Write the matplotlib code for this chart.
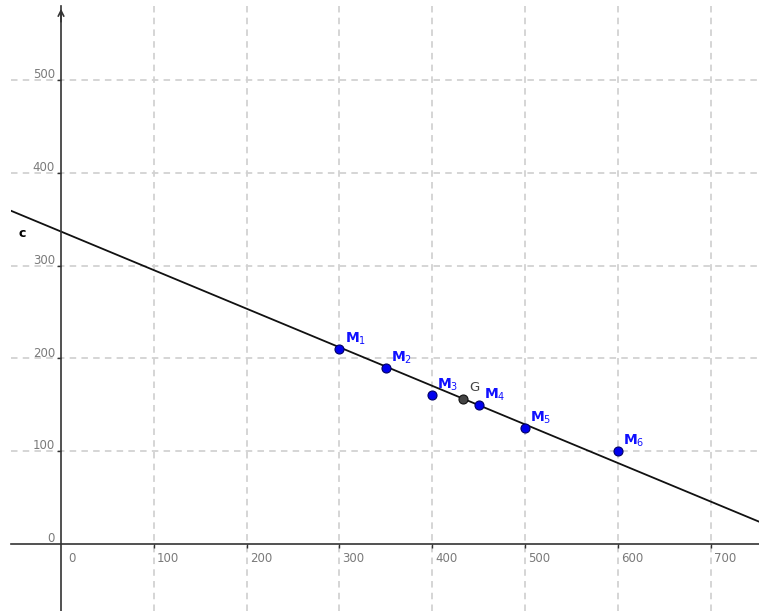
import matplotlib
matplotlib.use('Agg')
import matplotlib.pyplot as plt
import numpy as np

# ----------------------------------------------------------------------------------------------------------------------
# DATA
# ----------------------------------------------------------------------------------------------------------------------

point_names = ['1', '2', '3', '4', '5', '6']
x_values = [300, 350, 400, 450, 500, 600]
y_values = [210, 190, 160, 150, 125, 100]
line_slope = -0.416       # line c
line_intercept = 336.7
x_ticks = [0, 100, 200, 300, 400, 500, 600, 700]
y_ticks = [0, 100, 200, 300, 400, 500]

# ----------------------------------------------------------------------------------------------------------------------
# PLOT
# ----------------------------------------------------------------------------------------------------------------------

W, H, DPI = 759, 611, 100
f = plt.figure(figsize=(W / DPI, H / DPI), dpi=DPI)
ax = f.add_axes([11 / W, 0, 748 / W, 605 / H])
xmin, xmax = -53.9, 752.2
ymin, ymax = -72.6, 580.0
ax.set_xlim(xmin, xmax)
ax.set_ylim(ymin, ymax)

# grid -----------------------------------------------------------------------------------------------------------------
grid_kw = dict(color='#d2d2d2', linewidth=1.3, dashes=(3.6, 2.9), zorder=0)
for v in x_ticks[1:]:
    ax.axvline(v, **grid_kw)
for v in y_ticks[1:]:
    ax.axhline(v, **grid_kw)

# axes through origin --------------------------------------------------------------------------------------------------
for s in ['top', 'right']:
    ax.spines[s].set_visible(False)
ax.spines['left'].set_position(('data', 0))
ax.spines['bottom'].set_position(('data', 0))
for s in ['left', 'bottom']:
    ax.spines[s].set_color('#333333')
    ax.spines[s].set_linewidth(1.2)
ax.set_xticks(x_ticks[1:])
ax.set_yticks(y_ticks[1:])
ax.tick_params(direction='out', length=3, width=1, color='#333333', labelbottom=False, labelleft=False)
ax.annotate('', xy=(0, ymax), xytext=(0, ymax - 20),
            arrowprops=dict(arrowstyle='->', color='#333333', lw=1.2, mutation_scale=10), annotation_clip=False)

# tick labels ----------------------------------------------------------------------------------------------------------
lab_kw = dict(fontsize=8.5, color='#7a7a7a', textcoords='offset points')
for v in y_ticks:
    ax.annotate(str(v), xy=(0, v), xytext=(-4.3, 1.2), ha='right', va='baseline', **lab_kw)
for v in x_ticks:
    dx = 5.0 if v == 0 else 2.3
    ax.annotate(str(v), xy=(v, 0), xytext=(dx, -13.2), ha='left', va='baseline', **lab_kw)

# line c ---------------------------------------------------------------------------------------------------------------
xx = np.array([xmin, xmax])
ax.plot(xx, line_intercept + line_slope * xx, color='#111111', linewidth=1.3, zorder=2)
ax.text(-46.3, 331, 'c', fontsize=9, fontweight='bold', color='black', ha='left', va='baseline')

# points ---------------------------------------------------------------------------------------------------------------
ax.plot(x_values, y_values, 'o', markersize=6.5, markerfacecolor='#0000ee', markeredgecolor='#000066',
        markeredgewidth=0.8, zorder=4)
for name, x, y in zip(point_names, x_values, y_values):
    ax.annotate(r'$\mathbf{M}_{%s}$' % name, xy=(x, y), xytext=(3.8, 4.6), textcoords='offset points',
                fontsize=10, color='#1010ff', ha='left', va='baseline', zorder=5)

gx, gy = np.mean(x_values), np.mean(y_values)
ax.plot([gx], [gy], 'o', markersize=6.5, markerfacecolor='#444444', markeredgecolor='#111111',
        markeredgewidth=0.8, zorder=4)
ax.annotate('G', xy=(gx, gy), xytext=(4.2, 6.0), textcoords='offset points',
            fontsize=9.5, color='#444444', ha='left', va='baseline', zorder=5)

plt.savefig('out.png', dpi=DPI)
